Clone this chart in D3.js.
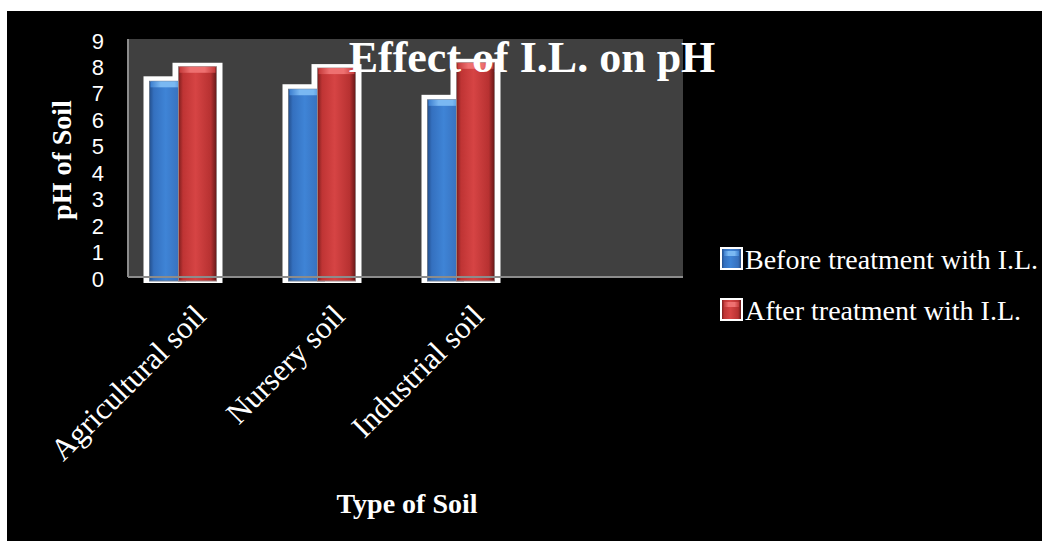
<!DOCTYPE html>
<html><head><meta charset="utf-8">
<script src="https://cdn.jsdelivr.net/npm/d3@7/dist/d3.min.js"></script>
<style>html,body{margin:0;padding:0;background:#fff;}svg{display:block;}</style>
</head><body>
<script>
const categories = ["Agricultural soil", "Nursery soil", "Industrial soil"];
const seriesNames = ["Before treatment with I.L.", "After treatment with I.L."];
const beforeValues = [7.4, 7.1, 6.7];
const afterValues = [7.95, 7.9, 8.1];
const yTicks = [0, 1, 2, 3, 4, 5, 6, 7, 8, 9];

const W = 1042, H = 541;
const svg = d3.select("body").append("svg").attr("width", W).attr("height", H);
const serif = "'Liberation Serif','Times New Roman',serif";
const sans = "'Liberation Sans',Arial,sans-serif";

// gradients
const defs = svg.append("defs");
function hgrad(id, stops) {
  const g = defs.append("linearGradient").attr("id", id).attr("x1", "0").attr("x2", "1").attr("y1", "0").attr("y2", "0");
  stops.forEach(s => g.append("stop").attr("offset", s[0]).attr("stop-color", s[1]));
}
hgrad("gBlue", [["0%", "#24508e"], ["12%", "#3470bf"], ["45%", "#3f84d6"], ["85%", "#3770bd"], ["100%", "#234a80"]]);
hgrad("gRed", [["0%", "#7e1e1e"], ["12%", "#bf3434"], ["45%", "#d64444"], ["85%", "#b73131"], ["100%", "#661818"]]);
hgrad("gBlueTop", [["0%", "#3d7fcf"], ["30%", "#7ab8f2"], ["70%", "#7ab8f2"], ["100%", "#3d7fcf"]]);
hgrad("gRedTop", [["0%", "#c43a3a"], ["30%", "#ee7070"], ["70%", "#ee7070"], ["100%", "#c43a3a"]]);

// black chart area
svg.append("rect").attr("x", 7).attr("y", 11).attr("width", W - 7).attr("height", H - 11).attr("fill", "#000");

const plot = { left: 128, top: 39, right: 683, bottom: 277 };
svg.append("rect").attr("x", plot.left).attr("y", plot.top)
  .attr("width", plot.right - plot.left).attr("height", plot.bottom - plot.top).attr("fill", "#404040");

const y = d3.scaleLinear().domain([0, 9]).range([plot.bottom, plot.top]);
const x = d3.scaleBand().domain(categories).range([114, 114 + 3 * 139]).padding(0);

const barW = 36, redOffset = 29, redW = 38;
const data = categories.map((c, i) => ({ c, b: beforeValues[i], a: afterValues[i] }));

const g = svg.append("g");
// white frames
data.forEach(d => {
  const cx = x(d.c) + x.bandwidth() / 2;
  const bx = cx - 34, rx = bx + redOffset;
  g.append("rect").attr("x", bx - 6).attr("y", y(d.b) - 5).attr("width", barW + 12).attr("height", 283 - (y(d.b) - 5)).attr("fill", "#fff");
  g.append("rect").attr("x", rx - 6).attr("y", y(d.a) - 4).attr("width", redW + 12).attr("height", 283 - (y(d.a) - 4)).attr("fill", "#fff");
});
// bars
data.forEach(d => {
  const cx = x(d.c) + x.bandwidth() / 2;
  const bx = cx - 34, rx = bx + redOffset;
  g.append("rect").attr("x", bx).attr("y", y(d.b)).attr("width", barW).attr("height", 281 - y(d.b))
    .attr("fill", "url(#gBlue)").attr("stroke", "#6a7a90").attr("stroke-width", 1);
  g.append("rect").attr("x", bx + 1).attr("y", y(d.b)).attr("width", barW - 2).attr("height", 6).attr("fill", "url(#gBlueTop)");
  g.append("rect").attr("x", rx).attr("y", y(d.a)).attr("width", redW).attr("height", 281 - y(d.a))
    .attr("fill", "url(#gRed)").attr("stroke", "#9a8080").attr("stroke-width", 1);
  g.append("rect").attr("x", rx + 1).attr("y", y(d.a)).attr("width", redW - 2).attr("height", 6).attr("fill", "url(#gRedTop)");
});

// axes lines
svg.append("line").attr("x1", plot.left).attr("x2", plot.right).attr("y1", plot.bottom).attr("y2", plot.bottom)
  .attr("stroke", "#8c8c8c").attr("stroke-width", 2);
svg.append("line").attr("x1", plot.left).attr("x2", plot.left).attr("y1", plot.top).attr("y2", plot.bottom)
  .attr("stroke", "#8c8c8c").attr("stroke-width", 2);

// y axis ticks
const yAxis = d3.axisLeft(y).tickValues(yTicks).tickSize(0).tickPadding(24).tickFormat(d3.format("d"));
const ya = svg.append("g").attr("transform", `translate(${plot.left},2)`).call(yAxis);
ya.select(".domain").remove();
ya.selectAll("text").attr("fill", "#fff").style("font-family", sans).style("font-size", "22px");

// x labels
categories.forEach(c => {
  const cx = x(c) + x.bandwidth() / 2;
  svg.append("text").attr("transform", `translate(${cx + 24},${318}) rotate(-45)`)
    .attr("text-anchor", "end").attr("fill", "#fff").style("font-family", serif).style("font-size", "31px").text(c);
});

// title
svg.append("text").attr("x", 532).attr("y", 72).attr("text-anchor", "middle").attr("fill", "#fff")
  .style("font-family", serif).style("font-weight", "bold").style("font-size", "44px").text("Effect of I.L. on pH");

// axis titles
svg.append("text").attr("transform", "translate(71,160) rotate(-90)").attr("text-anchor", "middle").attr("fill", "#fff")
  .style("font-family", serif).style("font-weight", "bold").style("font-size", "28px").text("pH of Soil");
svg.append("text").attr("x", 407).attr("y", 513).attr("text-anchor", "middle").attr("fill", "#fff")
  .style("font-family", serif).style("font-weight", "bold").style("font-size", "28px").text("Type of Soil");

// legend
const legFills = ["url(#gBlue)", "url(#gRed)"];
const legTops = ["url(#gBlueTop)", "url(#gRedTop)"];
seriesNames.forEach((s, i) => {
  const ly = 247 + i * 51;
  svg.append("rect").attr("x", 720).attr("y", ly).attr("width", 23).attr("height", 23).attr("fill", "#fff");
  svg.append("rect").attr("x", 722).attr("y", ly + 2).attr("width", 19).attr("height", 19).attr("fill", legFills[i]);
  svg.append("rect").attr("x", 724).attr("y", ly + 4).attr("width", 15).attr("height", 5).attr("fill", legTops[i]);
  svg.append("text").attr("x", 745).attr("y", ly + 22).attr("fill", "#fff")
    .style("font-family", serif).style("font-size", "28px").text(s);
});
</script>
</body></html>
